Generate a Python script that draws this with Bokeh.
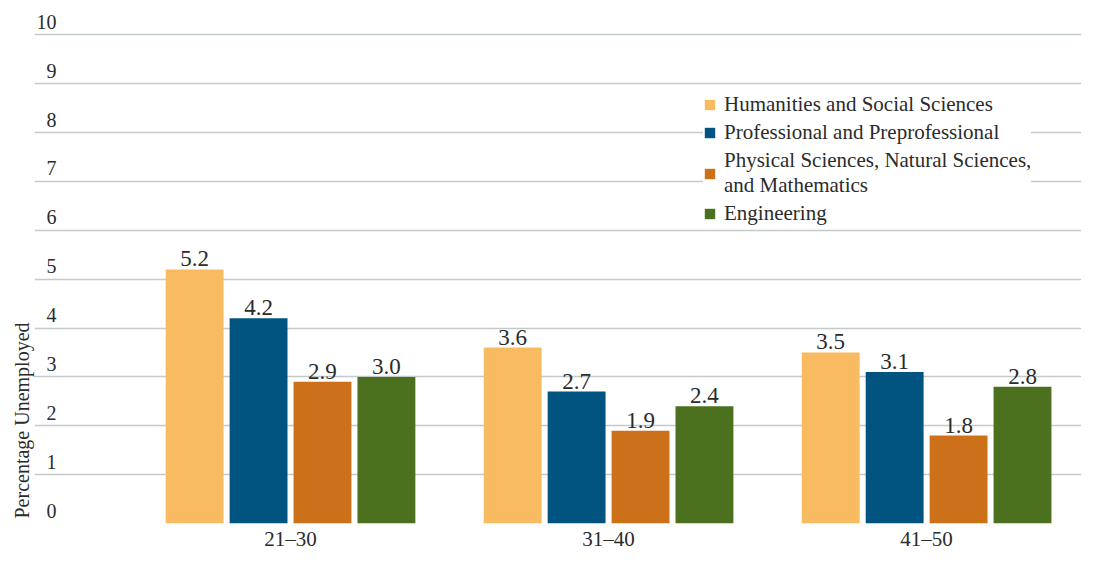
from bokeh.plotting import figure
from bokeh.models import ColumnDataSource, Legend, LegendItem, Title, FixedTicker, Range1d
from bokeh.core.properties import value
from bokeh.embed import file_html
from bokeh.resources import INLINE

# ---- data ----
groups = ["21\u201330", "31\u201340", "41\u201350"]
series = ["Humanities and Social Sciences",
          "Professional and Preprofessional",
          "Physical Sciences, Natural Sciences,\nand Mathematics",
          "Engineering"]
humanities = [5.2, 3.6, 3.5]
professional = [4.2, 2.7, 3.1]
physical = [2.9, 1.9, 1.8]
engineering = [3.0, 2.4, 2.8]
colors = ["#F9BB61", "#01547F", "#CD701A", "#4B711E"]
y_ticks = [0, 1, 2, 3, 4, 5, 6, 7, 8, 9, 10]
y_title = "Percentage Unemployed"

FONT = "Liberation Serif"
TXT = "#2b2b2b"
W, H = 1081, 553
XL, XR = 0.195, 3.487

p = figure(width=W, height=H, output_backend="svg", toolbar_location=None,
           x_range=Range1d(XL, XR), y_range=Range1d(0, 10.6),
           min_border_left=34, min_border_right=0, min_border_top=5, min_border_bottom=22)
p.outline_line_color = None
p.background_fill_color = "white"

# grid
p.ygrid.ticker = FixedTicker(ticks=y_ticks)
p.ygrid.grid_line_color = "#C3CACA"
p.ygrid.grid_line_width = 1.5
p.xgrid.grid_line_color = None

# axes
p.yaxis.visible = False
p.xaxis.ticker = FixedTicker(ticks=[1, 2, 3])
p.xaxis.major_label_overrides = {i + 1: g for i, g in enumerate(groups)}
p.xaxis.axis_line_color = None
p.xaxis.major_tick_line_color = None
p.xaxis.minor_tick_line_color = None
p.xaxis.major_tick_out = 0
p.xaxis.major_tick_in = 0
p.xaxis.major_label_text_font = FONT
p.xaxis.major_label_text_font_size = "21px"
p.xaxis.major_label_text_color = TXT
p.xaxis.major_label_standoff = 3

xs = [1, 2, 3]
step = 0.201
bw = 0.182
all_vals = [humanities, professional, physical, engineering]
items = []
for i, (vals, col, name) in enumerate(zip(all_vals, colors, series)):
    off = (i - 1.5) * step
    src = ColumnDataSource(dict(x=[x + off for x in xs], top=vals,
                                lbl=[f"{v:.1f}" for v in vals]))
    r = p.vbar(x="x", top="top", width=bw, source=src, fill_color=col, line_color=None)
    p.text(x="x", y="top", text="lbl", source=src, text_align="center",
           text_baseline="bottom", y_offset=-3, text_font=value(FONT),
           text_font_size="23px", text_color=TXT)
    items.append(LegendItem(label=name, renderers=[r]))

# y tick labels sitting above the grid lines
tsrc = ColumnDataSource(dict(x=[XL] * len(y_ticks), y=y_ticks, t=[str(t) for t in y_ticks]))
p.text(x="x", y="y", text="t", source=tsrc, x_offset=22, y_offset=-6,
       text_align="right", text_baseline="bottom", text_font=value(FONT),
       text_font_size="20px", text_color=TXT)

# y axis title
p.add_layout(Title(text=y_title, align="left", offset=5, text_font=FONT,
                   text_font_size="20px", text_font_style="normal", text_color=TXT,
                   standoff=4), "left")

legend = Legend(items=items, location=(669, 297), background_fill_color="white",
                background_fill_alpha=1.0, border_line_color=None, padding=10, margin=0,
                spacing=3, glyph_width=13, glyph_height=13, label_standoff=8,
                label_text_font=FONT, label_text_font_size="21px", label_text_color=TXT,
                label_text_line_height=1.05, label_height=21)
p.add_layout(legend)

open("out.html", "w").write(file_html(p, INLINE))
